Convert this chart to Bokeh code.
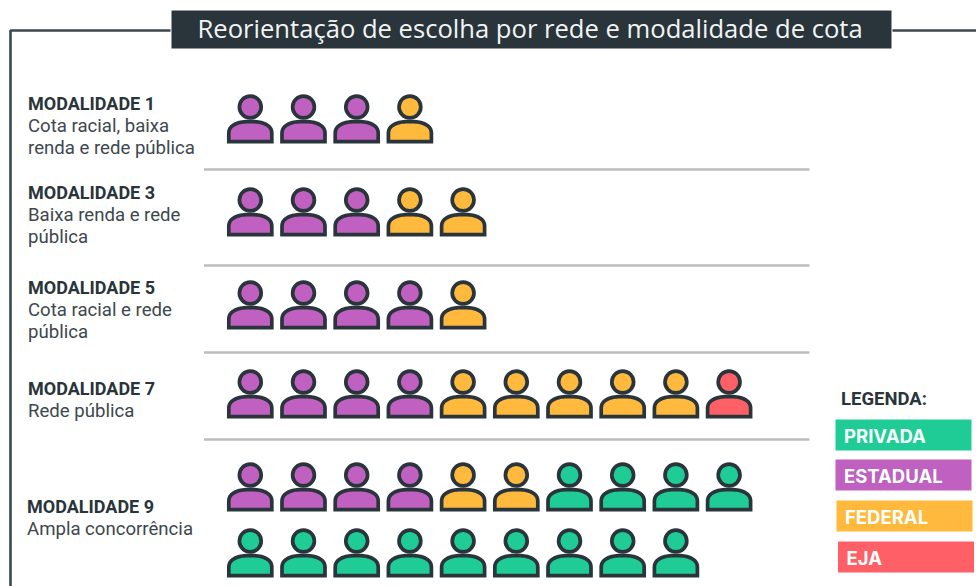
import numpy as np
from bokeh.plotting import figure
from bokeh.models import ColumnDataSource
from bokeh.core.properties import value
from bokeh.embed import file_html
from bokeh.resources import INLINE

TITLE = "Reorientação de escolha por rede e modalidade de cota"
ROW_NAMES = ["MODALIDADE 1", "MODALIDADE 3", "MODALIDADE 5", "MODALIDADE 7", "MODALIDADE 9"]
ROW_DESCRIPTIONS = [
    ["Cota racial, baixa", "renda e rede pública"],
    ["Baixa renda e rede", "pública"],
    ["Cota racial e rede", "pública"],
    ["Rede pública"],
    ["Ampla concorrência"],
]
ESTADUAL = [3, 3, 4, 4, 4]
FEDERAL = [1, 2, 1, 5, 2]
EJA = [0, 0, 0, 1, 0]
PRIVADA = [0, 0, 0, 0, 13]
LEGEND_LABELS = ["PRIVADA", "ESTADUAL", "FEDERAL", "EJA"]

COLORS = {"PRIVADA": "#20cc96", "ESTADUAL": "#c060c0", "FEDERAL": "#ffb93c", "EJA": "#ff6068"}
INK = "#29343b"

# layout (page pixels)
ROW_BASE = [143, 236, 329, 418, 511]
WRAP_GAP = 66
PER_LINE = 10
SLOT_X0, SLOT_DX = 249.8, 53.2
NAME_Y = [103, 192, 287, 388, 506]
DESC_X = [27.5, 27.5, 27.5, 27.5, 26.5]
RULES_Y = [169, 265, 352, 439]

p = figure(width=976, height=586, x_range=(0, 976), y_range=(586, 0),
           output_backend="svg", toolbar_location=None, min_border=0,
           outline_line_color=None, background_fill_color="white")
p.axis.visible = False
p.grid.visible = False

# frame and header
p.line([170, 10, 10], [30, 30, 586], line_color="#3a474e", line_width=2.6)
p.line([892, 976], [30, 30], line_color="#3a474e", line_width=2.6)
p.quad(left=[171], right=[891], top=[10], bottom=[48], fill_color=INK, line_color=None)
p.text(x=[197], y=[27.5], text=[TITLE], text_font=value("Open Sans"), text_font_size="25.6px",
       text_color="#f2f4f4", text_baseline="middle")

# separators
p.segment(x0=[203.5] * 4, x1=[809] * 4, y0=RULES_Y, y1=RULES_Y, line_color="#bcbcbc", line_width=2.4)

# row labels
desc_x, desc_y, desc_t = [], [], []
for i, lines in enumerate(ROW_DESCRIPTIONS):
    for j, line in enumerate(lines):
        desc_x.append(DESC_X[i]); desc_y.append(NAME_Y[i] + 22 * (j + 1)); desc_t.append(line)
p.text(x=DESC_X, y=NAME_Y, text=ROW_NAMES, text_font=value("Roboto"), text_font_style="bold",
       text_font_size="18px", text_color=INK, text_baseline="middle")
p.text(x=desc_x, y=desc_y, text=desc_t, text_font=value("Roboto"),
       text_font_size="18.6px", text_color="#3d474d", text_baseline="middle")

# people
t = np.linspace(np.pi, 0, 41)
shape_x = np.concatenate([[-21.5], 21.5 * np.sign(np.cos(t)) * np.abs(np.cos(t)) ** 0.85, [21.5]])
shape_y = np.concatenate([[-1.8], -10 - 12 * np.sin(t) ** 0.85, [-1.8]])
hx, hy, bx, by, col = [], [], [], [], []
for r in range(len(ROW_NAMES)):
    seq = (["ESTADUAL"] * ESTADUAL[r] + ["FEDERAL"] * FEDERAL[r] +
           ["EJA"] * EJA[r] + ["PRIVADA"] * PRIVADA[r])
    for k, kind in enumerate(seq):
        cx = SLOT_X0 + SLOT_DX * (k % PER_LINE)
        base = ROW_BASE[r] + WRAP_GAP * (k // PER_LINE)
        hx.append(cx); hy.append(base - 36.5)
        bx.append(list(cx + shape_x)); by.append(list(base + shape_y))
        col.append(COLORS[kind])
src = ColumnDataSource(dict(hx=hx, hy=hy, bx=bx, by=by, col=col))
p.patches("bx", "by", source=src, fill_color="col", line_color=INK, line_width=3.7, line_join="miter")
p.circle("hx", "hy", radius=10.9, source=src, fill_color="col", line_color=INK, line_width=3.7)

# legend
LEG_L = [835, 835, 836, 837.5]
LEG_T = [419, 459, 500, 541]
p.quad(left=LEG_L, right=[l + 136 for l in LEG_L], top=LEG_T, bottom=[v + 31 for v in LEG_T],
       fill_color=[COLORS[k] for k in LEGEND_LABELS], line_color=None)
p.text(x=[840.5], y=[398.5], text=["LEGENDA:"], text_font=value("Roboto"), text_font_style="bold",
       text_font_size="18.5px", text_color=INK, text_baseline="middle")
p.text(x=[l + 8.5 for l in LEG_L], y=[v + 16 for v in LEG_T], text=LEGEND_LABELS,
       text_font=value("Inter"), text_font_style="bold", text_font_size="18.5px",
       text_color="#f6fffb", text_baseline="middle")

open("out.html", "w").write(file_html(p, INLINE))
